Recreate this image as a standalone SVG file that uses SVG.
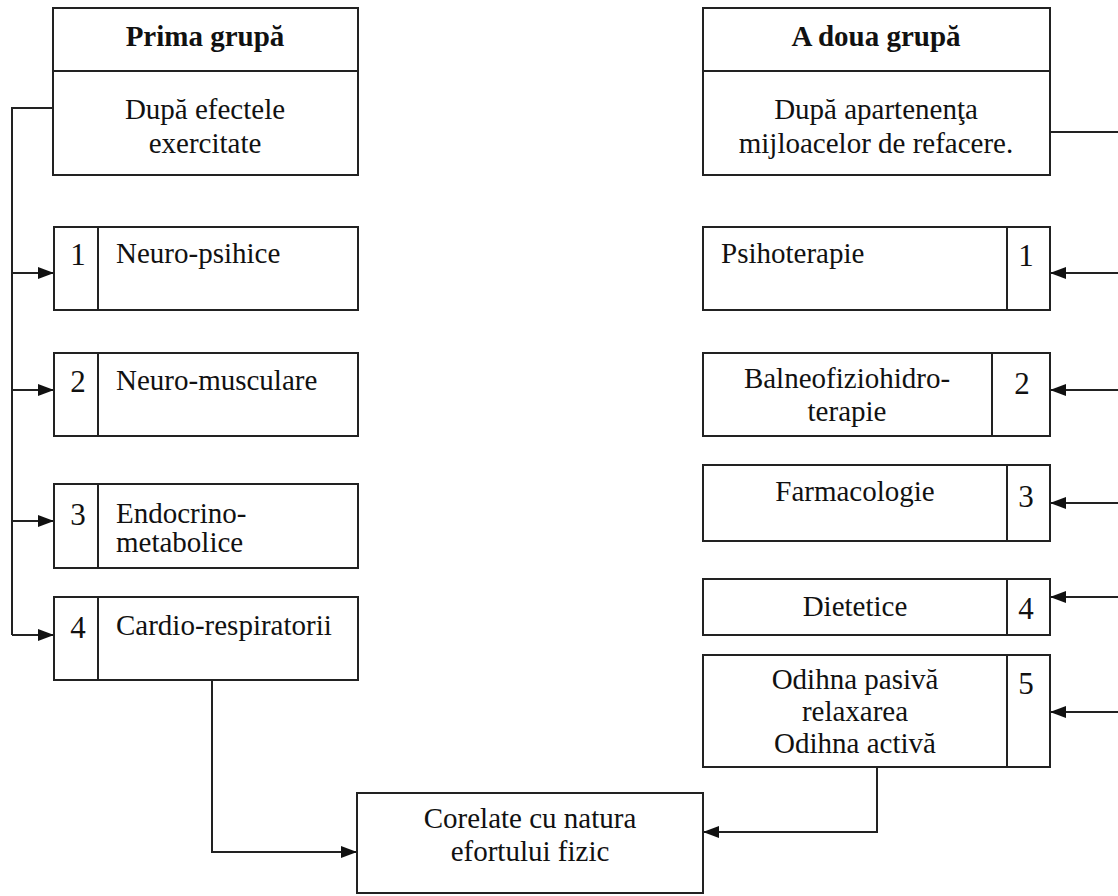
<svg xmlns="http://www.w3.org/2000/svg" width="1118" height="896" viewBox="0 0 1118 896">
<style>
.box{fill:#fff;stroke:#222;stroke-width:2}
.ln{fill:none;stroke:#222;stroke-width:2}
text{font-family:"Liberation Serif","Times New Roman",serif;font-size:29px;fill:#111}
.b{font-weight:bold}
.c{text-anchor:middle}
.n{font-size:31px}
</style>
<defs>
<marker id="ah" viewBox="0 0 16 12" refX="16" refY="6" markerWidth="16" markerHeight="12" markerUnits="userSpaceOnUse" orient="auto">
<path d="M0,0 L16,6 L0,12 z" fill="#111"/>
</marker>
</defs>
<rect width="1118" height="896" fill="#fff"/>
<g id="connectors">
<polyline class="ln" points="53,108 12,108 12,635"/>
<line class="ln" x1="12" y1="273" x2="54" y2="273" marker-end="url(#ah)"/>
<line class="ln" x1="12" y1="390" x2="54" y2="390" marker-end="url(#ah)"/>
<line class="ln" x1="12" y1="521" x2="54" y2="521" marker-end="url(#ah)"/>
<line class="ln" x1="12" y1="635" x2="54" y2="635" marker-end="url(#ah)"/>
<line class="ln" x1="1050" y1="132" x2="1118" y2="132"/>
<line class="ln" x1="1118" y1="273" x2="1050" y2="273" marker-end="url(#ah)"/>
<line class="ln" x1="1118" y1="390" x2="1050" y2="390" marker-end="url(#ah)"/>
<line class="ln" x1="1118" y1="503" x2="1050" y2="503" marker-end="url(#ah)"/>
<line class="ln" x1="1118" y1="597" x2="1050" y2="597" marker-end="url(#ah)"/>
<line class="ln" x1="1118" y1="712" x2="1050" y2="712" marker-end="url(#ah)"/>
<polyline class="ln" points="212,680 212,852 357,852" marker-end="url(#ah)"/>
<polyline class="ln" points="877,767 877,832 703,832" marker-end="url(#ah)"/>
</g>
<g id="prima-grupa">
<rect class="box" x="53" y="8" width="305" height="167"/>
<line class="ln" x1="53" y1="71" x2="358" y2="71"/>
<text class="b c" x="205" y="46">Prima grupă</text>
<text class="c" x="205" y="119">După efectele</text>
<text class="c" x="205" y="153">exercitate</text>
</g>
<g id="a-doua-grupa">
<rect class="box" x="703" y="8" width="347" height="167"/>
<line class="ln" x1="703" y1="71" x2="1050" y2="71"/>
<text class="b c" x="876" y="46">A doua grupă</text>
<text class="c" x="876" y="119">După apartenenţa</text>
<text class="c" x="876" y="153">mijloacelor de refacere.</text>
</g>
<g id="l1">
<rect class="box" x="54" y="227" width="304" height="83"/>
<line class="ln" x1="98" y1="227" x2="98" y2="310"/>
<text class="c n" x="78" y="265">1</text>
<text x="116" y="263">Neuro-psihice</text>
</g>
<g id="l2">
<rect class="box" x="54" y="353" width="304" height="83"/>
<line class="ln" x1="98" y1="353" x2="98" y2="436"/>
<text class="c n" x="78" y="392">2</text>
<text x="116" y="390">Neuro-musculare</text>
</g>
<g id="l3">
<rect class="box" x="54" y="484" width="304" height="84"/>
<line class="ln" x1="98" y1="484" x2="98" y2="568"/>
<text class="c n" x="78" y="525">3</text>
<text x="116" y="523">Endocrino-</text>
<text x="116" y="552">metabolice</text>
</g>
<g id="l4">
<rect class="box" x="54" y="597" width="304" height="83"/>
<line class="ln" x1="98" y1="597" x2="98" y2="680"/>
<text class="c n" x="78" y="638">4</text>
<text x="116" y="635">Cardio-respiratorii</text>
</g>
<g id="r1">
<rect class="box" x="703" y="227" width="347" height="83"/>
<line class="ln" x1="1007" y1="227" x2="1007" y2="310"/>
<text x="721" y="263">Psihoterapie</text>
<text class="c n" x="1026" y="266">1</text>
</g>
<g id="r2">
<rect class="box" x="703" y="353" width="347" height="83"/>
<line class="ln" x1="992" y1="353" x2="992" y2="436"/>
<text class="c" x="847" y="388">Balneofiziohidro-</text>
<text class="c" x="847" y="421">terapie</text>
<text class="c n" x="1022" y="394">2</text>
</g>
<g id="r3">
<rect class="box" x="703" y="465" width="347" height="76"/>
<line class="ln" x1="1007" y1="465" x2="1007" y2="541"/>
<text class="c" x="855" y="501">Farmacologie</text>
<text class="c n" x="1026" y="507">3</text>
</g>
<g id="r4">
<rect class="box" x="703" y="579" width="347" height="56"/>
<line class="ln" x1="1007" y1="579" x2="1007" y2="635"/>
<text class="c" x="855" y="616">Dietetice</text>
<text class="c n" x="1026" y="619">4</text>
</g>
<g id="r5">
<rect class="box" x="703" y="655" width="347" height="112"/>
<line class="ln" x1="1007" y1="655" x2="1007" y2="767"/>
<text class="c" x="855" y="689">Odihna pasivă</text>
<text class="c" x="855" y="721">relaxarea</text>
<text class="c" x="855" y="753">Odihna activă</text>
<text class="c n" x="1026" y="694">5</text>
</g>
<g id="corelate">
<rect class="box" x="357" y="793" width="346" height="100"/>
<text class="c" x="530" y="828">Corelate cu natura</text>
<text class="c" x="530" y="861">efortului fizic</text>
</g>
</svg>
